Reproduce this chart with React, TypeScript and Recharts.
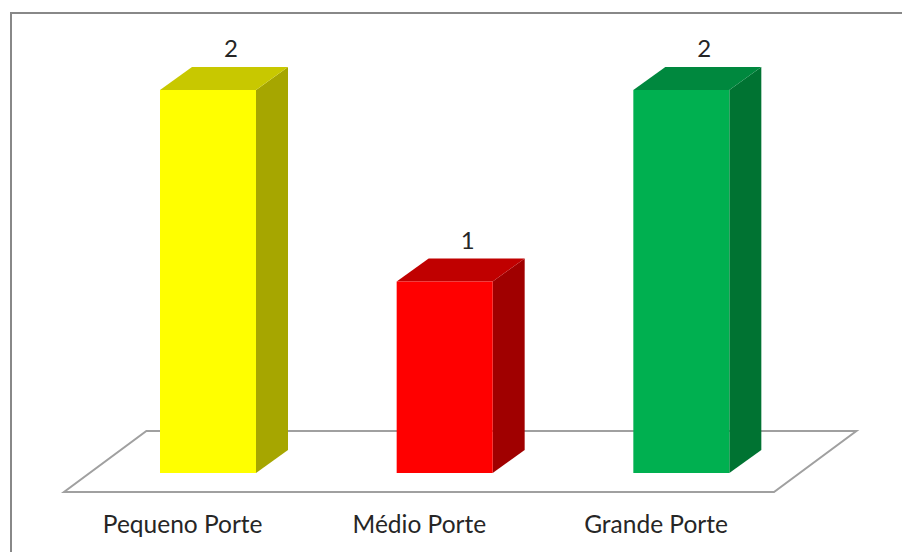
import React from "react";
import { BarChart, Bar, XAxis, YAxis, LabelList, Cell } from "recharts";

const categories = ["Pequeno Porte", "Médio Porte", "Grande Porte"];
const values = [2, 1, 2];
const frontColors = ["#FFFF00", "#FF0000", "#00B050"];
const topColors = ["#C8C800", "#C00000", "#00883E"];
const sideColors = ["#A6A600", "#A00000", "#007332"];

const data = categories.map((name, i) => ({ name, value: values[i] }));

const W = 902;
const H = 552;
const MARGIN = { top: 90, right: 102, bottom: 19, left: 90 };
const BAND = (W - MARGIN.left - MARGIN.right) / categories.length;
const DX = 32;
const DY = 23;
const FLOOR_BACK = 42;
const FLOOR_FRONT = 19;
const FLOOR_SLOPE = 1.35;
const FONT = "Lato, 'Open Sans', sans-serif";

const Box3D = (props: any) => {
  const { x, y, width, height, index } = props;
  const base = y + height;
  const parts: React.ReactNode[] = [];
  if (index === 0) {
    const bandLeft = x + width / 2 - BAND / 2;
    const totalW = BAND * categories.length;
    const by = base - FLOOR_BACK;
    const bx = bandLeft + FLOOR_BACK * FLOOR_SLOPE;
    const fy = base + FLOOR_FRONT;
    const fx = bandLeft - FLOOR_FRONT * FLOOR_SLOPE;
    parts.push(
      <polygon
        key="floor"
        points={`${bx},${by} ${bx + totalW},${by} ${fx + totalW},${fy} ${fx},${fy}`}
        fill="#FFFFFF"
        stroke="#A0A0A0"
        strokeWidth={2}
      />
    );
  }
  parts.push(
    <polygon
      key="side"
      points={`${x + width},${y} ${x + width + DX},${y - DY} ${x + width + DX},${base - DY} ${x + width},${base}`}
      fill={sideColors[index]}
    />,
    <polygon
      key="top"
      points={`${x},${y} ${x + DX},${y - DY} ${x + width + DX},${y - DY} ${x + width},${y}`}
      fill={topColors[index]}
    />,
    <rect key="front" x={x} y={y} width={width} height={height} fill={frontColors[index]} />
  );
  return <g>{parts}</g>;
};

const ValueLabel = (props: any) => {
  const { x, y, width, value } = props;
  return (
    <text
      x={x + width / 2 + 23}
      y={y - 33}
      textAnchor="middle"
      fontFamily={FONT}
      fontSize={24}
      fill="#262626"
    >
      {value}
    </text>
  );
};

const CategoryTick = (props: any) => {
  const { x, y, payload } = props;
  return (
    <text
      x={x - FLOOR_FRONT * FLOOR_SLOPE}
      y={y + 60}
      textAnchor="middle"
      fontFamily={FONT}
      fontSize={24.5}
      fill="#262626"
    >
      {payload.value}
    </text>
  );
};

export default function App() {
  return (
    <div style={{ position: "absolute", left: 0, top: 0, width: W, height: H, background: "#FFFFFF" }}>
      <svg width={W} height={H} style={{ position: "absolute", left: 0, top: 0 }}>
        <rect x={11} y={13} width={1200} height={1200} fill="#FFFFFF" stroke="#888888" strokeWidth={2} />
      </svg>
      <div style={{ position: "absolute", left: 0, top: 0 }}>
        <BarChart width={W} height={H} data={data} margin={MARGIN} barSize={96}>
          <XAxis
            dataKey="name"
            axisLine={false}
            tickLine={false}
            tickSize={0}
            tickMargin={0}
            height={60}
            interval={0}
            tick={<CategoryTick />}
          />
          <YAxis hide domain={[0, 2]} />
          <Bar dataKey="value" isAnimationActive={false} shape={<Box3D />}>
            {data.map((d, i) => (
              <Cell key={d.name} fill={frontColors[i]} />
            ))}
            <LabelList dataKey="value" content={<ValueLabel />} />
          </Bar>
        </BarChart>
      </div>
    </div>
  );
}
